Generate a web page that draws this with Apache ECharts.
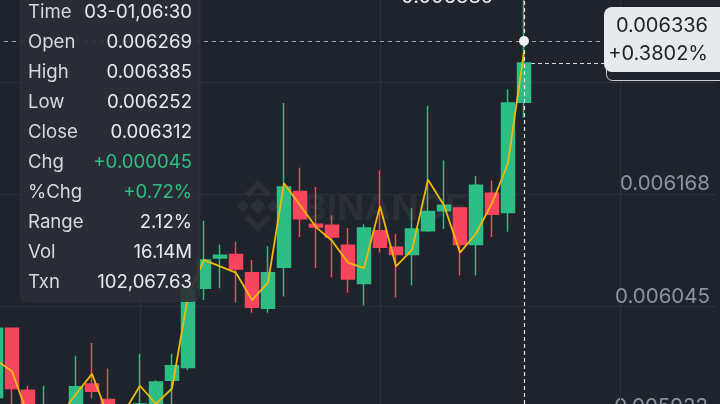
<!DOCTYPE html>
<html><head><meta charset="utf-8">
<script src="https://cdn.jsdelivr.net/npm/echarts@6/dist/echarts.min.js"></script>
<style>html,body{margin:0;padding:0;background:#1f232b;overflow:hidden}#c{width:720px;height:404px;}</style>
</head><body><div id="c"></div>
<script>
// ---- data ----
const opens  = [0.005945,0.006021,0.005953,0.005915,0.005932,0.005925,0.005960,0.005943,0.005920,0.005925,0.005934,0.005964,0.005978,0.006065,0.006098,0.006102,0.006082,0.006043,0.006088,0.006171,0.006135,0.006134,0.006112,0.006070,0.006128,0.006110,0.006102,0.006128,0.006150,0.006153,0.006113,0.006169,0.006148,0.006269];
const closes = [0.006021,0.005955,0.005925,0.005932,0.005918,0.005957,0.005952,0.005925,0.005930,0.005938,0.005962,0.005980,0.006064,0.006096,0.006101,0.006086,0.006044,0.006082,0.006176,0.006141,0.006132,0.006121,0.006075,0.006131,0.006110,0.006102,0.006130,0.006149,0.006156,0.006113,0.006178,0.006146,0.006268,0.006312];
const lows   = [0.005930,0.005930,0.005918,0.005905,0.005910,0.005915,0.005944,0.005915,0.005912,0.005918,0.005928,0.005937,0.005975,0.006052,0.006065,0.006049,0.006038,0.006038,0.006056,0.006121,0.006087,0.006077,0.006060,0.006046,0.006104,0.006055,0.006068,0.006127,0.006130,0.006079,0.006079,0.006121,0.006127,0.006252];
const highs  = [0.006023,0.006022,0.005958,0.005958,0.005935,0.005991,0.006005,0.005977,0.005934,0.005993,0.005964,0.005993,0.006068,0.006139,0.006113,0.006116,0.006096,0.006111,0.006268,0.006197,0.006176,0.006145,0.006131,0.006135,0.006194,0.006124,0.006153,0.006265,0.006205,0.006154,0.006188,0.006183,0.006283,0.006385];
const maValues = [0.005986,0.005974,0.005925,0.005920,0.005925,0.005949,0.005971,0.005925,0.005929,0.005958,0.005938,0.005955,0.006056,0.006096,0.006089,0.006082,0.006052,0.006071,0.006180,0.006156,0.006132,0.006117,0.006093,0.006087,0.006155,0.006089,0.006107,0.006184,0.006156,0.006104,0.006125,0.006158,0.006202,0.006324];
const yTicks = [0.006291, 0.006168, 0.006045];
const yTickLabels = ['0.006291','0.006168','0.006045'];
const bottomTickLabel = '0.005922'; // tick just below the visible range (only its label top shows)
const tipLabels = ['Time','Open','High','Low','Close','Chg','%Chg','Range','Vol','Txn'];
const tipValues = ['03-01,06:30','0.006269','0.006385','0.006252','0.006312','+0.000045','+0.72%','2.12%','16.14M','102,067.63'];
const crossPrice = 0.006336;
const crossPriceLabel = '0.006336';
const crossChangeLabel = '+0.3802%';
const lastClose = 0.006312;
const lastCloseLabel = '0.006312';
const highLabel = '0.006385';
const slotCount = 46;           // visible candle slots incl. empty future ones
const vGridSlots = [9, 24, 39]; // category slots with vertical grid lines

const cats = [];
for (let i = 0; i < slotCount; i++) cats.push('k' + i);
const lastIdx = opens.length - 1;
const firstCat = cats[0], lastCat = cats[slotCount - 1];

const FONT = 'Inter, "Noto Sans", sans-serif';
const GREEN = '#2ebd85', RED = '#f6465d';
const WM = 'rgba(255,255,255,0.055)';
const GRIDC = '#2b3039';
const AXFS = 20.5, TIPFS = 18.6, BOXFS = 20;

const chart = echarts.init(document.getElementById('c'), null, {renderer: 'canvas'});

const graphics = [];
// watermark (behind the series)
graphics.push({type:'group', z:0, silent:true, children:[
  {type:'polygon', shape:{points:[[258,198],[266,206],[258,214],[250,206]]}, style:{fill:WM}},
  {type:'polygon', shape:{points:[[243,200],[249,206],[243,212],[237,206]]}, style:{fill:WM}},
  {type:'polygon', shape:{points:[[273,200],[279,206],[273,212],[267,206]]}, style:{fill:WM}},
  {type:'polyline', shape:{points:[[247,195],[258,184],[269,195]]}, style:{stroke:WM, lineWidth:6, fill:null}},
  {type:'polyline', shape:{points:[[247,217],[258,228],[269,217]]}, style:{stroke:WM, lineWidth:6, fill:null}},
  {type:'text', x:303, y:209, style:{text:'BINANCE', fill:WM, font:'bold 36px ' + FONT, textVerticalAlign:'middle'}}
]});
// bottom tick label (its gridline is just below the picture)
graphics.push({type:'text', z:1, silent:true, x:708, y:407, style:{text:bottomTickLabel, fill:'#8d939c', font:AXFS + 'px ' + FONT, textAlign:'right', textVerticalAlign:'middle'}});
// tooltip panel
graphics.push({type:'rect', z:100, silent:true, shape:{x:20, y:-14, width:180, height:316, r:8},
  style:{fill:'rgba(42,46,54,0.9)', stroke:'rgba(255,255,255,0.04)', lineWidth:1}});
tipLabels.forEach(function (lab, i) {
  const y = 12 + i * 30;
  graphics.push({type:'text', z:101, silent:true, x:28, y:y, style:{text:lab, fill:'#d5d8dc', font:TIPFS + 'px ' + FONT, textVerticalAlign:'middle'}});
  const green = tipValues[i].charAt(0) === '+';
  graphics.push({type:'text', z:101, silent:true, x:192, y:y, style:{text:tipValues[i], fill: green ? GREEN : '#e6e8ea', font:TIPFS + 'px ' + FONT, textAlign:'right', textVerticalAlign:'middle'}});
});
// current price box (behind) and crosshair price box
graphics.push({type:'rect', z:102, silent:true, shape:{x:606.5, y:44.5, width:130, height:36, r:6}, style:{fill:'#1f232b', stroke:'#c9ccd1', lineWidth:1}});
graphics.push({type:'text', z:103, silent:true, x:708, y:63, style:{text:lastCloseLabel, fill:'#eaecef', font:BOXFS + 'px ' + FONT, textAlign:'right', textVerticalAlign:'middle'}});
graphics.push({type:'rect', z:104, silent:true, shape:{x:604, y:7, width:130, height:65, r:8}, style:{fill:'#e7e9ec'}});
graphics.push({type:'text', z:105, silent:true, x:708, y:26, style:{text:crossPriceLabel, fill:'#1e2329', font:BOXFS + 'px ' + FONT, textAlign:'right', textVerticalAlign:'middle'}});
graphics.push({type:'text', z:105, silent:true, x:708, y:54, style:{text:crossChangeLabel, fill:'#1e2329', font:BOXFS + 'px ' + FONT, textAlign:'right', textVerticalAlign:'middle'}});
// high label (top, mostly cut off)
graphics.push({type:'text', z:90, silent:true, x:493, y:-3, style:{text:highLabel, fill:'#eaecef', font:BOXFS + 'px ' + FONT, textAlign:'right', textVerticalAlign:'middle'}});

function hLine(v, style, label) {
  return [
    {coord: [firstCat, v], lineStyle: style, label: label || {show: false}},
    {coord: [lastCat, v]}
  ];
}

const option = {
  backgroundColor: '#1f232b',
  animation: false,
  grid: {left: -12, right: -4, top: 0, bottom: 0, containLabel: false, outerBoundsMode: 'none'},
  xAxis: {type: 'category', data: cats, boundaryGap: true, show: false},
  yAxis: {type: 'value', min: 0.005938, max: 0.006381, show: false, scale: true},
  series: [
    { // grid lines, tick labels, last price line (below candles); invisible line
      type: 'line', data: maValues, z: 1, silent: true, showSymbol: false,
      lineStyle: {opacity: 0},
      markLine: {
        z: 1,
        symbol: 'none', silent: true, animation: false,
        label: {show: false},
        data: yTicks.map(function (v, i) {
          return hLine(v, {color: GRIDC, width: 1, type: 'solid'},
            {show: true, position: 'insideEndTop', formatter: yTickLabels[i], color: '#8d939c',
             fontSize: AXFS, lineHeight: 20, fontFamily: FONT, distance: 0, padding: [0, 6, 0, 0]});
        }).concat(vGridSlots.map(function (s) {
          return {xAxis: cats[s], lineStyle: {color: GRIDC, width: 1, type: 'solid'}, label: {show: false}};
        })).concat([[
          {coord: [cats[lastIdx], lastClose], lineStyle: {color: '#d8dbdf', width: 1, type: [4, 3]}, label: {show: false}},
          {coord: [cats[lastIdx + 5], lastClose]}
        ]])
      }
    },
    {
      type: 'candlestick', z: 2, barWidth: 13,
      data: opens.map(function (o, i) { return [o, closes[i], lows[i], highs[i]]; }),
      itemStyle: {color: GREEN, color0: RED, borderColor: GREEN, borderColor0: RED, borderWidth: 1.5}
    },
    {
      type: 'line', z: 3, data: maValues, showSymbol: false, smooth: false,
      lineStyle: {color: '#f0b90b', width: 1.8},
      markLine: {
        symbol: 'none', silent: true, animation: false, label: {show: false},
        data: [
          {xAxis: cats[lastIdx], lineStyle: {color: '#e4e6e9', width: 1.2, type: [4, 3]}},
          [{coord: [firstCat, crossPrice], lineStyle: {color: '#9aa0a8', width: 1, type: [4, 4]}},
           {coord: [cats[lastIdx + 5], crossPrice]}]
        ]
      },
      markPoint: {
        silent: true, animation: false, label: {show: false},
        data: [{coord: [cats[lastIdx], crossPrice], symbol: 'circle', symbolSize: 10, itemStyle: {color: '#eef0f2'}}]
      }
    }
  ],
  graphic: graphics
};
chart.setOption(option);
</script>
</body></html>
